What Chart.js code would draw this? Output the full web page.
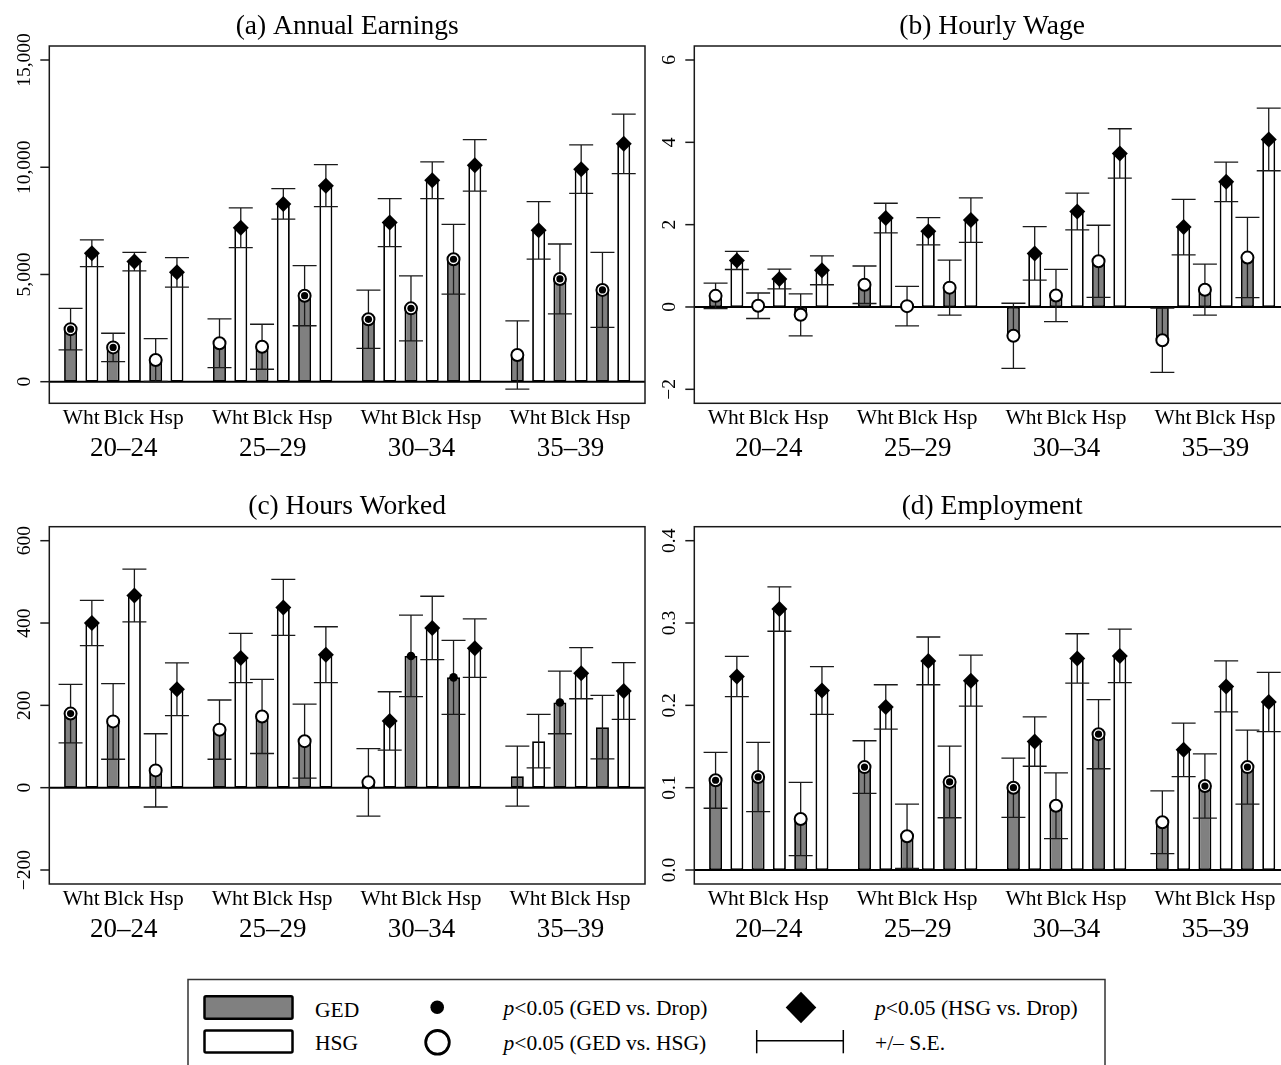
<!DOCTYPE html>
<html>
<head>
<meta charset="utf-8">
<script src="https://cdn.jsdelivr.net/npm/chart.js@4.4.1/dist/chart.umd.min.js"></script>
<style>
  html, body { margin: 0; padding: 0; background: #fff; overflow: hidden; width: 1281px; height: 1065px; }
  canvas { position: absolute; }
  #legend { position: absolute; left: 0; top: 0; }
  #legend text { font-family: 'Liberation Serif', 'Times New Roman', serif; font-size: 21.5px; fill: #000; }
</style>
</head>
<body>
<canvas id="panelA" width="660" height="475" style="left:0px;top:0px"></canvas>
<canvas id="panelB" width="660" height="475" style="left:650px;top:0px"></canvas>
<canvas id="panelC" width="660" height="475" style="left:0px;top:480px"></canvas>
<canvas id="panelD" width="660" height="475" style="left:650px;top:480px"></canvas>

<svg id="legend" width="1281" height="1065" xmlns="http://www.w3.org/2000/svg">
  <rect x="188" y="979.5" width="917" height="120" fill="#fff" stroke="#333" stroke-width="1.5"/>
  <rect x="204.5" y="996.3" width="88" height="22.5" rx="1.5" fill="#808080" stroke="#000" stroke-width="2.5"/>
  <rect x="204.5" y="1030.5" width="88" height="22" rx="1.5" fill="#fff" stroke="#000" stroke-width="2.5"/>
  <text x="315" y="1016.5">GED</text>
  <text x="315" y="1050">HSG</text>
  <circle cx="437.2" cy="1007.2" r="6.8" fill="#000"/>
  <circle cx="437.5" cy="1042.3" r="11.8" fill="#fff" stroke="#000" stroke-width="2.8"/>
  <text x="503.5" y="1015"><tspan font-style="italic">p</tspan>&lt;0.05 (GED vs. Drop)</text>
  <text x="503.5" y="1050"><tspan font-style="italic">p</tspan>&lt;0.05 (GED vs. HSG)</text>
  <polygon points="785.7,1007.5 801,991.7 816.3,1007.5 801,1023.3" fill="#000"/>
  <line x1="756.7" y1="1040.7" x2="843.3" y2="1040.7" stroke="#000" stroke-width="1.5"/>
  <line x1="756.7" y1="1030" x2="756.7" y2="1053.3" stroke="#000" stroke-width="1.5"/>
  <line x1="843.3" y1="1030" x2="843.3" y2="1053.3" stroke="#000" stroke-width="1.5"/>
  <text x="875" y="1015"><tspan font-style="italic">p</tspan>&lt;0.05 (HSG vs. Drop)</text>
  <text x="875" y="1050">+/&#8211; S.E.</text>
</svg>

<script>
// ---- categories ----
const ageGroups = ['20\u201324', '25\u201329', '30\u201334', '35\u201339'];
const races = ['Wht', 'Blck', 'Hsp'];

// Significance codes for the GED marker:
//  'both' = p<0.05 vs. Drop and vs. HSG, 'hsg' = vs. HSG only, 'drop' = vs. Drop only, '' = none

// ---- (a) Annual Earnings ----
const earnTickValues = [0, 5000, 10000, 15000];
const earnTickLabels = ['0', '5,000', '10,000', '15,000'];
const earnGED   = [2450, 1600, 1010, 1790, 1630, 4010, 2910, 3420, 5710, 1245, 4790, 4280];
const earnGEDse = [970, 660, 1000, 1135, 1050, 1400, 1360, 1515, 1630, 1590, 1630, 1750];
const earnGEDsig = ['both', 'both', 'hsg', 'hsg', 'hsg', 'both', 'both', 'both', 'both', 'hsg', 'both', 'both'];
const earnHSG   = [5990, 5600, 5100, 7180, 8290, 9140, 7420, 9390, 10090, 7060, 9910, 11090];
const earnHSGse = [620, 430, 690, 925, 710, 980, 1120, 856, 1200, 1340, 1130, 1385];
const earnHSGsig = [true, true, true, true, true, true, true, true, true, true, true, true];

// ---- (b) Hourly Wage ----
const wageTickValues = [-2, 0, 2, 4, 6];
const wageTickLabels = ['\u22122', '0', '2', '4', '6'];
const wageGED   = [0.27, 0.03, -0.19, 0.54, 0.02, 0.47, -0.70, 0.28, 1.11, -0.81, 0.42, 1.20];
const wageGEDse = [0.31, 0.31, 0.51, 0.455, 0.48, 0.67, 0.79, 0.635, 0.875, 0.78, 0.62, 0.975];
const wageGEDsig = ['hsg', 'hsg', 'hsg', 'hsg', 'hsg', 'hsg', 'hsg', 'hsg', 'hsg', 'hsg', 'hsg', 'hsg'];
const wageHSG   = [1.13, 0.68, 0.89, 2.16, 1.84, 2.11, 1.30, 2.32, 3.73, 1.94, 3.04, 4.07];
const wageHSGse = [0.22, 0.24, 0.35, 0.36, 0.33, 0.54, 0.65, 0.445, 0.60, 0.675, 0.48, 0.76];
const wageHSGsig = [true, true, true, true, true, true, true, true, true, true, true, true];

// ---- (c) Hours Worked ----
const hoursTickValues = [-200, 0, 200, 400, 600];
const hoursTickLabels = ['\u2212200', '0', '200', '400', '600'];
const hoursGED   = [180, 161, 42, 141, 173, 113, 13, 320, 268, 28, 207, 147];
const hoursGEDse = [71, 92, 89, 72, 90, 90, 82, 99, 90, 73, 76, 77];
const hoursGEDsig = ['both', 'hsg', 'hsg', 'hsg', 'hsg', 'hsg', 'hsg', 'drop', 'drop', '', 'drop', ''];
const hoursHSG   = [400, 467, 239, 315, 438, 323, 162, 388, 339, 113, 278, 235];
const hoursHSGse = [55, 64, 64, 60, 68, 68, 71, 77, 71, 65, 62, 69];
const hoursHSGsig = [true, true, true, true, true, true, true, true, true, false, true, true];

// ---- (d) Employment ----
const empTickValues = [0, 0.1, 0.2, 0.3, 0.4];
const empTickLabels = ['0.0', '0.1', '0.2', '0.3', '0.4'];
const empGED   = [0.109, 0.113, 0.062, 0.125, 0.041, 0.107, 0.100, 0.078, 0.165, 0.058, 0.102, 0.125];
const empGEDse = [0.034, 0.042, 0.0445, 0.032, 0.039, 0.0435, 0.036, 0.040, 0.042, 0.038, 0.039, 0.045];
const empGEDsig = ['both', 'both', 'hsg', 'both', 'hsg', 'both', 'both', 'hsg', 'both', 'hsg', 'both', 'both'];
const empHSG   = [0.235, 0.317, 0.218, 0.198, 0.254, 0.230, 0.156, 0.257, 0.260, 0.146, 0.223, 0.204];
const empHSGse = [0.0245, 0.027, 0.029, 0.027, 0.029, 0.031, 0.030, 0.030, 0.0325, 0.0325, 0.031, 0.036];
const empHSGsig = [true, true, true, true, true, true, true, true, true, true, true, true];

// ---- drawing helpers ----
const SERIF = "'Liberation Serif', 'Times New Roman', serif";
const GAP_SLOTS = 7;            // six bars per age group plus one empty slot
function slotOf(i, edu) {       // edu: 0 = GED, 1 = HSG
  const g = Math.floor(i / races.length), r = i % races.length;
  return g * GAP_SLOTS + r * 2 + edu;
}

function decorPlugin(p) {
  return {
    id: 'decor',
    afterDatasetDraw(chart, args) {
      if (args.index !== 1) return;
      const ctx = chart.ctx, xs = chart.scales.x, ys = chart.scales.y, a = chart.chartArea;
      ctx.save();
      // zero reference line
      const y0 = ys.getPixelForValue(0);
      ctx.strokeStyle = '#000';
      ctx.lineWidth = 2;
      ctx.beginPath(); ctx.moveTo(a.left, y0); ctx.lineTo(a.right, y0); ctx.stroke();
      // +/- S.E. whiskers
      ctx.strokeStyle = '#1a1a1a';
      ctx.lineWidth = 1.3;
      const series = [[p.ged, p.gedSe, 0], [p.hsg, p.hsgSe, 1]];
      series.forEach(([vals, se, edu]) => {
        vals.forEach((v, i) => {
          const x = xs.getPixelForValue(slotOf(i, edu));
          const yt = ys.getPixelForValue(v + se[i]);
          const yb = ys.getPixelForValue(v - se[i]);
          ctx.beginPath();
          ctx.moveTo(x, yt); ctx.lineTo(x, yb);
          ctx.moveTo(x - 12, yt); ctx.lineTo(x + 12, yt);
          ctx.moveTo(x - 12, yb); ctx.lineTo(x + 12, yb);
          ctx.stroke();
        });
      });
      ctx.restore();
    },
    afterDraw(chart) {
      const ctx = chart.ctx, xs = chart.scales.x, ys = chart.scales.y, a = chart.chartArea;
      ctx.save();
      // plot frame
      ctx.strokeStyle = '#1a1a1a';
      ctx.lineWidth = 1.5;
      ctx.strokeRect(a.left, a.top, a.right - a.left, a.bottom - a.top);
      // y ticks and rotated labels
      ctx.fillStyle = '#000';
      ctx.font = '19.5px ' + SERIF;
      ctx.textAlign = 'center';
      ctx.textBaseline = 'alphabetic';
      ys.ticks.forEach((t, k) => {
        const y = ys.getPixelForValue(t.value);
        ctx.beginPath(); ctx.moveTo(a.left - 9, y); ctx.lineTo(a.left, y); ctx.stroke();
        ctx.save();
        ctx.translate(a.left - 19.5, y);
        ctx.rotate(-Math.PI / 2);
        ctx.fillText(p.tickLabels[k], 0, 0);
        ctx.restore();
      });
      // race labels under each pair of bars
      ctx.font = '21.5px ' + SERIF;
      ageGroups.forEach((ag, g) => {
        races.forEach((r, j) => {
          const x = xs.getPixelForValue(slotOf(g * races.length + j, 0) + 0.5);
          ctx.fillText(r, x, a.bottom + 21);
        });
      });
      // age-group labels
      ctx.font = '27px ' + SERIF;
      ageGroups.forEach((ag, g) => {
        const x = xs.getPixelForValue(slotOf(g * races.length + 1, 0) + 0.5);
        ctx.fillText(ag, x, a.bottom + 53);
      });
      // panel title
      ctx.font = '27.5px ' + SERIF;
      ctx.fillText(p.title, (a.left + a.right) / 2, a.top - 12.5);
      ctx.restore();
    }
  };
}

function makePanel(id, p) {
  const gedPts = p.ged.map((v, i) => ({ x: slotOf(i, 0), y: v }));
  const hsgPts = p.hsg.map((v, i) => ({ x: slotOf(i, 1), y: v }));
  return new Chart(document.getElementById(id), {
    type: 'bar',
    data: {
      datasets: [
        { label: 'GED', type: 'bar', data: gedPts, backgroundColor: '#808080', borderColor: '#000',
          borderWidth: 1.8, borderSkipped: false, grouped: false, categoryPercentage: 1, barPercentage: 0.61, order: 5 },
        { label: 'HSG', type: 'bar', data: hsgPts, backgroundColor: '#fff', borderColor: '#000',
          borderWidth: 1.8, borderSkipped: false, grouped: false, categoryPercentage: 1, barPercentage: 0.61, order: 4 },
        { label: 'p<0.05 (GED vs. HSG)', type: 'scatter', data: gedPts, pointStyle: 'circle',
          pointRadius: p.gedSig.map(s => (s === 'both' || s === 'hsg') ? 6 : 0),
          pointBackgroundColor: '#fff', pointBorderColor: '#000', pointBorderWidth: 2, order: 2 },
        { label: 'p<0.05 (GED vs. Drop)', type: 'scatter', data: gedPts, pointStyle: 'circle',
          pointRadius: p.gedSig.map(s => s === 'both' ? 3.6 : (s === 'drop' ? 4.3 : 0)),
          pointBackgroundColor: '#000', pointBorderColor: '#000', pointBorderWidth: 0, order: 1 },
        { label: 'p<0.05 (HSG vs. Drop)', type: 'scatter', data: hsgPts, pointStyle: 'rectRot',
          pointRadius: p.hsgSig.map(s => s ? 8 : 0),
          pointBackgroundColor: '#000', pointBorderColor: '#000', pointBorderWidth: 0, order: 1 }
      ]
    },
    options: {
      responsive: false,
      animation: false,
      events: [],
      layout: { padding: p.padding },
      scales: {
        x: { type: 'linear', min: -1, max: 27, offset: false, display: false, ticks: { stepSize: 1 } },
        y: { type: 'linear', min: p.yMin, max: p.yMax, display: false,
             afterBuildTicks: s => { s.ticks = p.tickValues.map(v => ({ value: v })); } }
      },
      plugins: { legend: { display: false }, tooltip: { enabled: false }, title: { display: false } }
    },
    plugins: [decorPlugin(p)]
  });
}

const leftPad = { left: 49.3, right: 15 };
const rightPad = { left: 44.3, right: 20 };

makePanel('panelA', {
  title: '(a) Annual Earnings', ged: earnGED, gedSe: earnGEDse, gedSig: earnGEDsig,
  hsg: earnHSG, hsgSe: earnHSGse, hsgSig: earnHSGsig,
  tickValues: earnTickValues, tickLabels: earnTickLabels, yMin: -1007, yMax: 15653,
  padding: { left: leftPad.left, right: leftPad.right, top: 46, bottom: 71.7 }
});
makePanel('panelB', {
  title: '(b) Hourly Wage', ged: wageGED, gedSe: wageGEDse, gedSig: wageGEDsig,
  hsg: wageHSG, hsgSe: wageHSGse, hsgSig: wageHSGsig,
  tickValues: wageTickValues, tickLabels: wageTickLabels, yMin: -2.34, yMax: 6.34,
  padding: { left: rightPad.left, right: rightPad.right, top: 46, bottom: 71.7 }
});
makePanel('panelC', {
  title: '(c) Hours Worked', ged: hoursGED, gedSe: hoursGEDse, gedSig: hoursGEDsig,
  hsg: hoursHSG, hsgSe: hoursHSGse, hsgSig: hoursHSGsig,
  tickValues: hoursTickValues, tickLabels: hoursTickLabels, yMin: -234, yMax: 634,
  padding: { left: leftPad.left, right: leftPad.right, top: 46.7, bottom: 71 }
});
makePanel('panelD', {
  title: '(d) Employment', ged: empGED, gedSe: empGEDse, gedSig: empGEDsig,
  hsg: empHSG, hsgSe: empHSGse, hsgSig: empHSGsig,
  tickValues: empTickValues, tickLabels: empTickLabels, yMin: -0.017, yMax: 0.417,
  padding: { left: rightPad.left, right: rightPad.right, top: 46.7, bottom: 71 }
});
</script>
</body>
</html>
